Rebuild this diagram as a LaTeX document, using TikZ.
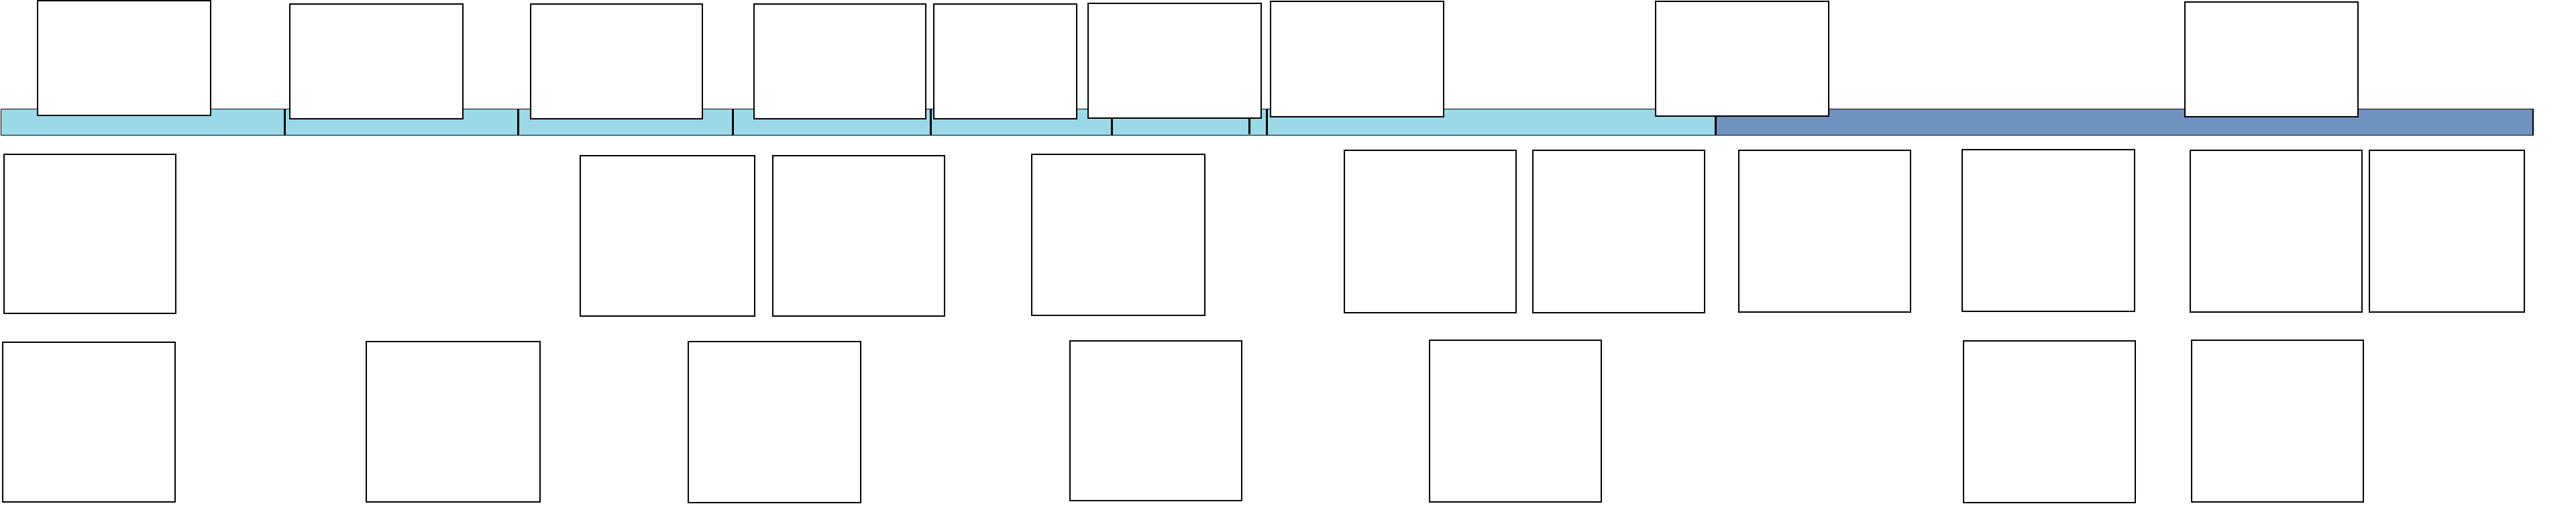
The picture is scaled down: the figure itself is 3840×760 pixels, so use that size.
\documentclass[tikz,border=0pt]{standalone}
\definecolor{lightbar}{HTML}{9BD9E9}
\definecolor{darkbar}{HTML}{7093C0}
\tikzset{
  box/.style={draw=black, fill=white, line width=2bp, inner sep=0pt, outer sep=0pt},
  lightseg/.style={draw=black, fill=lightbar, line width=1.6bp, inner sep=0pt, outer sep=0pt},
  darkseg/.style={draw=black, fill=darkbar, line width=1.6bp, inner sep=0pt, outer sep=0pt},
  divider/.style={draw=black, line width=3bp}
}
% \bx{style}{name}{x1}{y1}{x2}{y2}  (pixel coordinates, y downwards)
\newcommand{\bx}[6]{\node[#1, minimum width={(#5-#3)*1bp}, minimum height={(#6-#4)*1bp}] (#2) at ({(#3+#5)/2},{(#4+#6)/2}) {};}
\begin{document}
\begin{tikzpicture}[x=1bp, y=-1bp]
\useasboundingbox (0,0) rectangle (3840,760);
% time bar
\bx{lightseg}{barA}{1.4}{162.3}{1888}{201.3}
\bx{lightseg}{barB}{1889.3}{162.3}{2557.3}{201.3}
\bx{darkseg}{barC}{2557.3}{162.3}{3775.7}{201.3}
% dividers
\draw[divider] (424.4,162.3) -- (424.4,201.3);
\draw[divider] (772.4,162.3) -- (772.4,201.3);
\draw[divider] (1092.5,162.3) -- (1092.5,201.3);
\draw[divider] (1387.4,162.3) -- (1387.4,201.3);
\draw[divider] (1657.4,175) -- (1657.4,201.3);
\draw[divider] (1862.3,176.7) -- (1862.3,200);
\draw[divider] (2557.3,162.3) -- (2557.3,201.3);
% top row boxes
\bx{box}{tA}{56.1}{1.3}{313.6}{172.3}
\bx{box}{tB}{432.1}{6}{690.3}{177.3}
\bx{box}{tC}{790.6}{6}{1047.4}{177.3}
\bx{box}{tD}{1123.7}{6}{1380.4}{177.3}
\bx{box}{tE}{1392.3}{6}{1604.5}{177.3}
\bx{box}{tF}{1622.3}{5.3}{1879.8}{176.3}
\bx{box}{tG}{1893.6}{2.3}{2152.2}{173.7}
\bx{box}{tH}{2468.3}{2.3}{2725.8}{173.3}
\bx{box}{tI}{3257.4}{3.3}{3514.8}{174.3}
% second row boxes
\bx{box}{mA}{5.8}{230}{262}{467.3}
\bx{box}{mB}{864.8}{231.7}{1125.1}{471.3}
\bx{box}{mC}{1151.6}{231.7}{1407.8}{471.3}
\bx{box}{mD}{1538}{230.3}{1795.8}{470.3}
\bx{box}{mE}{2003.9}{224.3}{2260.1}{466}
\bx{box}{mF}{2285}{224.3}{2541.1}{466}
\bx{box}{mG}{2591.6}{223.7}{2847.5}{465}
\bx{box}{mH}{2925}{222.7}{3182}{464.3}
\bx{box}{mI}{3265}{223.7}{3521.3}{465}
\bx{box}{mJ}{3531.6}{223.7}{3762.5}{465}
% third row boxes
\bx{box}{bA}{4.1}{510}{261.2}{748.3}
\bx{box}{bB}{545.5}{508.7}{805}{748.3}
\bx{box}{bC}{1026.4}{508.7}{1283.4}{749.3}
\bx{box}{bD}{1595.2}{508.3}{1851.4}{746.3}
\bx{box}{bE}{2130.8}{506.7}{2387}{748}
\bx{box}{bF}{2926.6}{507.7}{3182.8}{748.7}
\bx{box}{bG}{3266.7}{506.7}{3522.9}{747.7}
\end{tikzpicture}
\end{document}
